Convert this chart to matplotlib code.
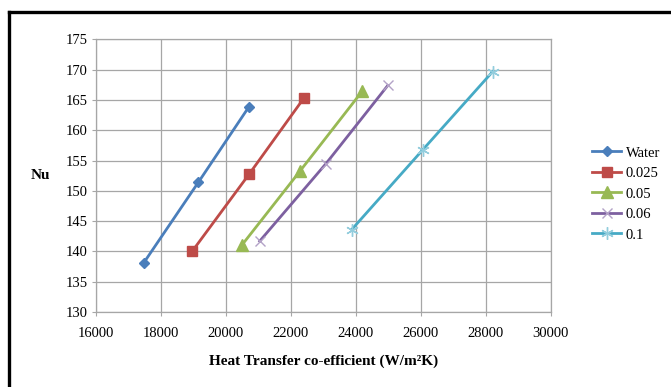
import matplotlib
matplotlib.use("Agg")
import matplotlib.pyplot as plt
from matplotlib.lines import Line2D

plt.rcParams['font.family'] = ['Liberation Serif', 'DejaVu Serif']

series = ["Water", "0.025", "0.05", "0.06", "0.1"]
h_water = [17470, 19150, 20710]
nu_water = [138.1, 151.4, 163.9]
h_025 = [18960, 20720, 22410]
nu_025 = [140.0, 152.8, 165.4]
h_05 = [20500, 22270, 24200]
nu_05 = [141.1, 153.2, 166.5]
h_06 = [21040, 23080, 24980]
nu_06 = [141.7, 154.5, 167.4]
h_1 = [23870, 26060, 28210]
nu_1 = [143.6, 156.8, 169.7]

fig = plt.figure(figsize=(6.71, 3.87), dpi=100)
ax = fig.add_axes([0.143, 0.194, 0.678, 0.704])

ax.plot(h_water, nu_water, color="#4A7EBB", lw=2, marker="D", ms=5.5, label=series[0])
ax.plot(h_025, nu_025, color="#BE4B48", lw=2, marker="s", ms=7, label=series[1])
ax.plot(h_05, nu_05, color="#98B954", lw=2, marker="^", ms=8, label=series[2])
ax.plot(h_06, nu_06, color="#7D60A0", lw=2, marker="x", ms=7, mew=1,
        mec="#B3A2C7", label=series[3])
ax.plot(h_1, nu_1, color="#46AAC5", lw=2, marker=(6, 2, 0), ms=9, mew=1,
        mec="#93CDDD", label=series[4])

ax.set_xlim(16000, 30000)
ax.set_ylim(130, 175)
ax.set_xticks(range(16000, 30001, 2000))
ax.set_yticks(range(130, 176, 5))
ax.grid(True, color="#A6A6A6", lw=0.9)
ax.set_axisbelow(True)
for s in ax.spines.values():
    s.set_color("#A6A6A6")
    s.set_linewidth(0.9)
ax.tick_params(axis="both", labelsize=10.5, color="#A6A6A6", length=3)
ax.tick_params(axis="x", pad=8)
ax.tick_params(axis="y", pad=3)

ax.set_xlabel("Heat Transfer co-efficient (W/m²K)", fontsize=11,
              fontweight="bold", labelpad=10)
ax.set_ylabel("Nu", fontsize=11, fontweight="bold", rotation=0, labelpad=0)
ax.yaxis.set_label_coords(-0.123, 0.5)
ax.yaxis.label.set_va("center")

ax.legend(loc="center left", bbox_to_anchor=(1.062, 0.433), frameon=False,
          fontsize=10.5, handlelength=2.0, handletextpad=0.3, labelspacing=0.5)

# outer frame
fig.add_artist(Line2D([0.014, 1.0], [0.968, 0.968], color="black", lw=2.4))
fig.add_artist(Line2D([0.014, 0.014], [0.0, 0.968], color="black", lw=2.4))

fig.savefig("out.png", dpi=100)
